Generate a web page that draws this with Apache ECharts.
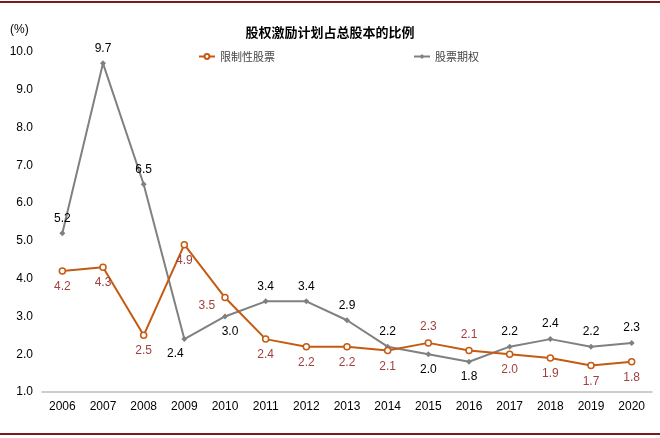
<!DOCTYPE html>
<html>
<head>
<meta charset="utf-8">
<script src="https://cdn.jsdelivr.net/npm/echarts@6/dist/echarts.min.js"></script>
<style>html,body{margin:0;padding:0;background:#fff;}#c{width:660px;height:438px;}</style>
</head>
<body>
<div id="c"></div>
<script>
var years = ['2006','2007','2008','2009','2010','2011','2012','2013','2014','2015','2016','2017','2018','2019','2020'];
var restricted = [4.2, 4.3, 2.5, 4.9, 3.5, 2.4, 2.2, 2.2, 2.1, 2.3, 2.1, 2.0, 1.9, 1.7, 1.8];
var options = [5.2, 9.7, 6.5, 2.4, 3.0, 3.4, 3.4, 2.9, 2.2, 2.0, 1.8, 2.2, 2.4, 2.2, 2.3];
var restrictedAbove = [9, 10];
var optionsBelow = [3, 4, 9, 10];
var yTicks = [1, 2, 3, 4, 5, 6, 7, 8, 9, 10];

var font = 'Arial, "Liberation Sans", "Noto Sans CJK SC", sans-serif';
var chart = echarts.init(document.getElementById('c'));

function mk(vals, isAbove, special) {
  return vals.map(function (v, i) {
    var above = isAbove(i);
    var lbl = { position: above ? 'top' : 'bottom' };
    if (special[i]) { lbl = special[i]; }
    return { value: v, label: lbl };
  });
}

chart.setOption({
  animation: false,
  backgroundColor: '#fff',
  textStyle: { fontFamily: font },
  title: {
    text: '股权激励计划占总股本的比例',
    left: 'center', top: 21,
    textStyle: { fontSize: 13, fontWeight: 'bold', color: '#000', fontFamily: '"Noto Sans CJK SC", sans-serif' }
  },
  legend: [
    { data: ['限制性股票'], left: 193, top: 46, itemWidth: 16, itemHeight: 6, itemGap: 4,
      textStyle: { fontSize: 11, color: '#444', fontFamily: '"Noto Sans CJK SC", sans-serif' } },
    { data: ['股票期权'], left: 408, top: 46, itemWidth: 16, itemHeight: 6, itemGap: 4,
      textStyle: { fontSize: 11, color: '#444', fontFamily: '"Noto Sans CJK SC", sans-serif' } }
  ],
  graphic: [
    { type: 'text', left: 10, top: 24, style: { text: '(%)', fontSize: 12, fill: '#000', fontFamily: font } },
    { type: 'line', shape: { x1: 0, y1: 2, x2: 660, y2: 2 }, style: { stroke: '#7B1A1A', lineWidth: 2 } },
    { type: 'line', shape: { x1: 0, y1: 434, x2: 660, y2: 434 }, style: { stroke: '#7B1A1A', lineWidth: 2 } }
  ],
  grid: { left: 42, right: 8, top: 52, bottom: 46 },
  xAxis: {
    type: 'category', data: years, boundaryGap: true,
    axisLine: { lineStyle: { color: '#BFBFBF', width: 1.5 } },
    axisTick: { show: false },
    axisLabel: { color: '#000', fontSize: 12, margin: 9, fontFamily: font }
  },
  yAxis: {
    type: 'value', min: yTicks[0], max: yTicks[yTicks.length - 1], interval: 1,
    axisLine: { show: false }, axisTick: { show: false }, splitLine: { show: false },
    axisLabel: { color: '#000', fontSize: 12, margin: 9, fontFamily: font,
      formatter: function (v) { return v.toFixed(1); } }
  },
  series: [
    {
      name: '限制性股票', type: 'line',
      data: mk(restricted, function (i) { return restrictedAbove.indexOf(i) >= 0; },
        { 4: { position: 'left', offset: [0, 8] } }),
      lineStyle: { color: '#C55A11', width: 2 },
      itemStyle: { color: '#fff', borderColor: '#C55A11', borderWidth: 1.5 },
      symbol: 'circle', symbolSize: 6,
      label: { show: true, color: '#A0413F', fontSize: 12, distance: 6, fontFamily: font,
        formatter: function (p) { return p.value.toFixed(1); } },
      z: 3
    },
    {
      name: '股票期权', type: 'line',
      data: mk(options, function (i) { return optionsBelow.indexOf(i) < 0; },
        { 3: { position: 'bottom', offset: [-9, 0] }, 4: { position: 'bottom', offset: [5, 0] } }),
      lineStyle: { color: '#808080', width: 2 },
      itemStyle: { color: '#808080' },
      symbol: 'diamond', symbolSize: 6,
      label: { show: true, color: '#000', fontSize: 12, distance: 6, fontFamily: font,
        formatter: function (p) { return p.value.toFixed(1); } },
      z: 2
    }
  ]
});
</script>
</body>
</html>
